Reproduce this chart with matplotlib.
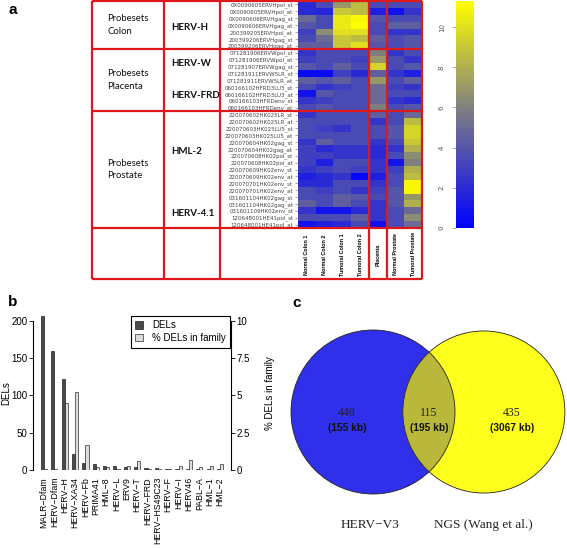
import numpy as np
import matplotlib
matplotlib.use('Agg')
import matplotlib.pyplot as plt
from matplotlib.colors import LinearSegmentedColormap
from matplotlib.patches import Circle, Patch

# ---------------- data ----------------
samples = ["Normal Colon 1", "Normal Colon 2", "Tumoral Colon 1", "Tumoral Colon 2",
           "Placenta", "Normal Prostate", "Tumoral Prostate"]

colon_probes = ["0X0090605ERVHpol_st", "0X0090605ERVHpol_at", "0X0090606ERVHgag_st",
                "0X0090606ERVHgag_at", "200399205ERVHpol_at", "200399206ERVHgag_st",
                "200399206ERVHgag_at"]
colon_values = [
    [2.0, 3.5, 7.0, 8.5, 3.5, 3.5, 3.5],
    [2.0, 1.8, 9.0, 8.5, 1.5, 0.8, 2.5],
    [5.0, 3.5, 10.5, 11.0, 4.0, 3.5, 3.5],
    [4.0, 3.5, 10.5, 11.2, 3.5, 4.5, 4.5],
    [3.0, 6.5, 10.0, 10.0, 3.5, 2.5, 2.5],
    [3.5, 5.0, 9.0, 8.5, 4.5, 3.5, 4.0],
    [4.5, 4.5, 9.0, 10.0, 4.0, 3.5, 4.0],
]

placenta_probes = ["071281906ERVWpol_st", "071281906ERVWpol_at", "071281907ERVWgag_st",
                   "071281911ERVW5LR_st", "071281911ERVW5LR_at", "060166102HFRD3LU3_st",
                   "060166102HFRD3LU3_at", "060166103HFRDenv_st", "060166103HFRDenv_at"]
placenta_values = [
    [2.5, 3.5, 3.5, 3.5, 6.0, 2.5, 3.5],
    [3.0, 3.5, 3.5, 3.0, 7.0, 3.5, 2.5],
    [4.0, 3.5, 4.5, 3.5, 9.5, 3.5, 4.0],
    [0.5, 0.5, 3.0, 2.0, 4.5, 2.5, 1.5],
    [4.5, 4.0, 4.5, 3.5, 7.0, 3.5, 4.5],
    [3.5, 2.5, 3.0, 3.5, 5.0, 3.0, 2.5],
    [0.8, 4.0, 3.5, 3.5, 5.0, 3.5, 3.5],
    [2.5, 3.0, 3.5, 3.5, 5.0, 2.5, 2.0],
    [3.5, 4.0, 3.5, 3.5, 6.0, 3.5, 4.0],
]

prostate_probes = ["220070602HK025LR_st", "220070602HK025LR_at", "220070603HK025LU5_st",
                   "220070603HK025LU5_at", "220070604HK02gag_st", "220070604HK02gag_at",
                   "220070608HK02pol_st", "220070608HK02pol_at", "220070609HK02env_st",
                   "220070609HK02env_at", "220070701HK02env_st", "220070701HK02env_at",
                   "031601104HK02gag_st", "031601104HK02gag_at", "031601109HK02env_st",
                   "120648001HE41pol_st", "120648001HE41pol_at"]
prostate_values = [
    [2.5, 3.5, 3.5, 3.5, 4.5, 3.5, 5.0],
    [3.5, 3.5, 3.5, 3.5, 2.5, 3.5, 8.5],
    [3.5, 3.0, 2.5, 3.5, 3.5, 4.0, 9.5],
    [3.5, 3.5, 3.5, 3.5, 3.5, 4.0, 9.5],
    [2.5, 4.5, 3.5, 3.5, 2.5, 3.5, 9.0],
    [3.0, 2.0, 2.5, 2.5, 2.0, 2.5, 8.0],
    [3.0, 3.0, 2.5, 2.5, 2.0, 3.5, 6.5],
    [3.0, 1.5, 3.5, 3.5, 2.5, 1.0, 6.0],
    [2.5, 3.0, 3.5, 3.0, 2.5, 3.0, 8.0],
    [1.5, 2.0, 2.5, 0.3, 1.5, 3.5, 8.5],
    [2.0, 2.0, 3.5, 3.5, 2.5, 3.5, 11.0],
    [3.5, 3.0, 3.5, 2.5, 3.0, 4.0, 11.0],
    [3.5, 3.5, 4.5, 4.0, 3.5, 4.0, 7.0],
    [4.5, 3.5, 4.5, 3.5, 2.5, 4.0, 8.0],
    [2.5, 1.0, 1.0, 2.0, 2.5, 3.5, 5.0],
    [3.5, 3.5, 3.5, 4.5, 2.5, 3.5, 6.5],
    [1.0, 1.5, 2.0, 3.5, 0.8, 3.5, 5.0],
]

group_titles = ["Probesets\nColon", "Probesets\nPlacenta", "Probesets\nProstate"]
colorbar_ticks = [0, 2, 4, 6, 8, 10]

families = ["MALR\u2212Dfam", "HERV\u2212Dfam", "HERV\u2212H", "HERV\u2212XA34", "HERV\u2212Fb",
            "PRIMA41", "HML\u22128", "HERV\u2212L", "ERV9", "HERV\u2212T", "HERV\u2212FRD",
            "HERV\u2212HS49C23", "HERV\u2212F", "HERV\u2212I", "HERV46", "PABL\u2212A",
            "HML\u22121", "HML\u22122"]
dels = [207, 160, 122, 21, 10, 8, 6, 6, 4, 4, 3, 3, 2, 2, 2, 2, 2, 2]
pct_dels = [0.05, 0.05, 4.5, 5.2, 1.7, 0.2, 0.2, 0.1, 0.25, 0.6, 0.1, 0.1, 0.1, 0.25,
            0.65, 0.2, 0.25, 0.4]

venn_names = ["HERV\u2212V3", "NGS (Wang et al.)"]
venn_counts = [448, 115, 435]          # only A, both, only B
venn_kb = ["(155 kb)", "(195 kb)", "(3067 kb)"]

# ---------------- figure ----------------
W, H = 567, 549
fig = plt.figure(figsize=(W / 100, H / 100), dpi=100)


def add_ax(x0, y0, x1, y1, **kw):
    return fig.add_axes([x0 / W, 1 - y1 / H, (x1 - x0) / W, (y1 - y0) / H], **kw)


RED = '#dd1a1a'
SANS = 'Liberation Sans'

# ---------------- panel a: heatmap ----------------
values = np.array(colon_values + placenta_values + prostate_values)
probes = colon_probes + placenta_probes + prostate_probes
nrows = len(probes)
VMAX = 11.3
cmap = LinearSegmentedColormap.from_list(
    'byg', [(0.0, '#0000ff'), (6.0 / VMAX, '#808080'), (1.0, '#ffff00')])

HM_X0, HM_X1, HM_Y0, HM_Y1 = 298, 422, 1, 228
hm = add_ax(HM_X0, HM_Y0, HM_X1, HM_Y1)
im = hm.imshow(values, cmap=cmap, vmin=0, vmax=VMAX, aspect='auto', interpolation='nearest')
hm.set_yticks(range(nrows))
hm.set_yticklabels(probes, fontsize=4.0, color='#444444', family='DejaVu Sans')
hm.tick_params(axis='y', length=2.5, width=0.4, color='#666666', pad=1)
hm.set_xticks(range(len(samples)))
hm.set_xticklabels(samples, rotation=90, fontsize=3.9, fontweight='bold', va='center',
                   family=SANS)
hm.tick_params(axis='x', length=0, pad=19)
for s in hm.spines.values():
    s.set_visible(False)

cb_ax = add_ax(456, HM_Y0, 474, HM_Y1)
cb = fig.colorbar(im, cax=cb_ax)
cb.outline.set_visible(False)
cb.set_ticks(colorbar_ticks)
cb_ax.yaxis.set_ticks_position('left')
cb_ax.tick_params(axis='y', length=3, width=0.4, color='#777777', pad=5)
for t in cb_ax.get_yticklabels():
    t.set_rotation(90)
    t.set_fontsize(5)
    t.set_color('#555555')
    t.set_va('center')

# ---------------- panel b: bar chart ----------------
FB = 7
bx = add_ax(33, 313.5, 231, 470)
x = np.arange(len(families))
bw = 0.3
bx.bar(x - bw / 2, dels, width=bw, color='#4a4a4a', edgecolor='black', linewidth=0.4,
       label='DELs')
bx.set_ylim(0, 210)
bx.set_xlim(-1.06, len(families) - 1 + 1.06)
bx.set_yticks([0, 50, 100, 150, 200])
bx.spines['left'].set_bounds(0, 200)
for s in ['top', 'bottom', 'right']:
    bx.spines[s].set_visible(False)
bx.set_xticks(x)
bx.set_xticklabels(families, rotation=90, fontsize=6.3, family=SANS)
bx.tick_params(axis='x', length=0, pad=5)
bx.tick_params(axis='y', labelsize=FB, length=3, width=0.6, pad=1)
for t in bx.get_yticklabels():
    t.set_family(SANS)
bx.set_ylabel('DELs', fontsize=FB, family=SANS)
bx.yaxis.set_label_coords(-0.11, 0.49)

tx = bx.twinx()
tx.bar(x + bw / 2, pct_dels, width=bw, color='#dcdcdc', edgecolor='black', linewidth=0.4,
       label='% DELs in family')
tx.set_ylim(0, 10.5)
tx.set_yticks([0, 2.5, 5, 7.5, 10])
tx.set_yticklabels(['0', '2.5', '5', '7.5', '10'], fontsize=FB, family=SANS)
tx.spines['right'].set_bounds(0, 10)
for s in ['top', 'bottom', 'left']:
    tx.spines[s].set_visible(False)
tx.tick_params(axis='y', length=3, width=0.6, pad=1)
tx.set_ylabel('% DELs in family', fontsize=FB, family=SANS)
tx.yaxis.set_label_coords(1.17, 0.49)
handles = [Patch(facecolor='#4a4a4a', edgecolor='black', linewidth=0.4, label='DELs'),
           Patch(facecolor='#dcdcdc', edgecolor='black', linewidth=0.4,
                 label='% DELs in family')]
leg = tx.legend(handles=handles, loc='upper right', bbox_to_anchor=(0.995, 0.985),
                borderaxespad=0, prop={'family': SANS, 'size': FB},
                fancybox=False, frameon=True, handlelength=0.8, handleheight=0.8,
                handletextpad=0.9, borderpad=0.45, labelspacing=0.3)
leg.get_frame().set_edgecolor('black')
leg.get_frame().set_linewidth(0.8)
leg.get_frame().set_alpha(1)

# ---------------- panel c: Venn ----------------
vx = add_ax(280, 290, 567, 549)
vx.set_xlim(280, 567)
vx.set_ylim(549, 290)
vx.axis('off')
k = 6.125
size_a = venn_counts[0] + venn_counts[1]
size_b = venn_counts[2] + venn_counts[1]
ra = k * np.sqrt(size_a / np.pi)
rb = k * np.sqrt(size_b / np.pi)


def lens_area(d, r1, r2):
    a1 = r1 ** 2 * np.arccos((d ** 2 + r1 ** 2 - r2 ** 2) / (2 * d * r1))
    a2 = r2 ** 2 * np.arccos((d ** 2 + r2 ** 2 - r1 ** 2) / (2 * d * r2))
    a3 = 0.5 * np.sqrt((-d + r1 + r2) * (d + r1 - r2) * (d - r1 + r2) * (d + r1 + r2))
    return a1 + a2 - a3


target = k ** 2 * venn_counts[1]
lo, hi = abs(ra - rb) + 1e-6, ra + rb - 1e-6
for _ in range(80):
    mid = (lo + hi) / 2
    if lens_area(mid, ra, rb) > target:
        lo = mid
    else:
        hi = mid
d = (lo + hi) / 2
ca = (373, 412)
cbc = (373 + d, 412)
circ_a = Circle(ca, ra, facecolor='#3030ec', edgecolor='none')
circ_b = Circle(cbc, rb, facecolor='#ffff1e', edgecolor='none')
vx.add_patch(circ_a)
vx.add_patch(circ_b)
lens = Circle(cbc, rb, facecolor='#b9b83a', edgecolor='none')
vx.add_patch(lens)
lens.set_clip_path(circ_a)
vx.add_patch(Circle(ca, ra, facecolor='none', edgecolor='#222222', linewidth=0.6))
vx.add_patch(Circle(cbc, rb, facecolor='none', edgecolor='#222222', linewidth=0.6))

SERIF = 'Liberation Serif'
pos_x = [347, (ca[0] + ra + cbc[0] - rb) / 2, 512]
for px, cnt, kb in zip(pos_x, venn_counts, venn_kb):
    vx.text(px, 413, str(cnt), ha='center', va='center', fontsize=8.5, family=SERIF,
            color='#222222')
    vx.text(px, 428, kb, ha='center', va='center', fontsize=7.3, fontweight='bold',
            family=SANS, color='#111111')
vx.text(370, 525, venn_names[0], ha='center', va='center', fontsize=9.5, family=SERIF,
        color='#222222')
vx.text(483, 525, venn_names[1], ha='center', va='center', fontsize=9.5, family=SERIF,
        color='#222222')

# ---------------- overlay: red frame & group labels ----------------
ov = add_ax(0, 0, W, H)
ov.set_xlim(0, W)
ov.set_ylim(H, 0)
ov.axis('off')
ov.patch.set_visible(False)
row_h = (HM_Y1 - HM_Y0) / nrows
col_w = (HM_X1 - HM_X0) / len(samples)
group_sizes = [len(colon_probes), len(placenta_probes), len(prostate_probes)]
bounds = np.concatenate([[0], np.cumsum(group_sizes)])
y_lines = [HM_Y0 + b * row_h for b in bounds] + [279]
x_left, x_right = 92, HM_X1
for yl in y_lines:
    ov.plot([x_left, x_right], [yl, yl], color=RED, lw=1.6, solid_capstyle='butt')
for xl in [92, 164, 220, HM_X0 + 4 * col_w, HM_X0 + 5 * col_w, HM_X1]:
    ov.plot([xl, xl], [HM_Y0, 279], color=RED, lw=1.6, solid_capstyle='butt')

GF = 'Lato'
for i, title in enumerate(group_titles):
    yc = HM_Y0 + (bounds[i] + bounds[i + 1]) / 2 * row_h
    ov.text(107, yc, title, ha='left', va='center', fontsize=6.8, family=GF,
            linespacing=1.5, color='#111111')
sub_labels = [("HERV-H", 27), ("HERV-W", 64), ("HERV-FRD", 95), ("HML-2", 152),
              ("HERV-4.1", 213)]
for lab, yy in sub_labels:
    ov.text(171, yy, lab, ha='left', va='center', fontsize=7, fontweight='bold',
            family=GF, color='#111111')

# panel letters
for lab, px, py in [("a", 13, 10), ("b", 13, 302), ("c", 297, 303)]:
    fig.text(px / W, 1 - py / H, lab, ha='center', va='center', fontsize=11,
             fontweight='bold', family=SANS)

fig.savefig('out.png', dpi=100)
